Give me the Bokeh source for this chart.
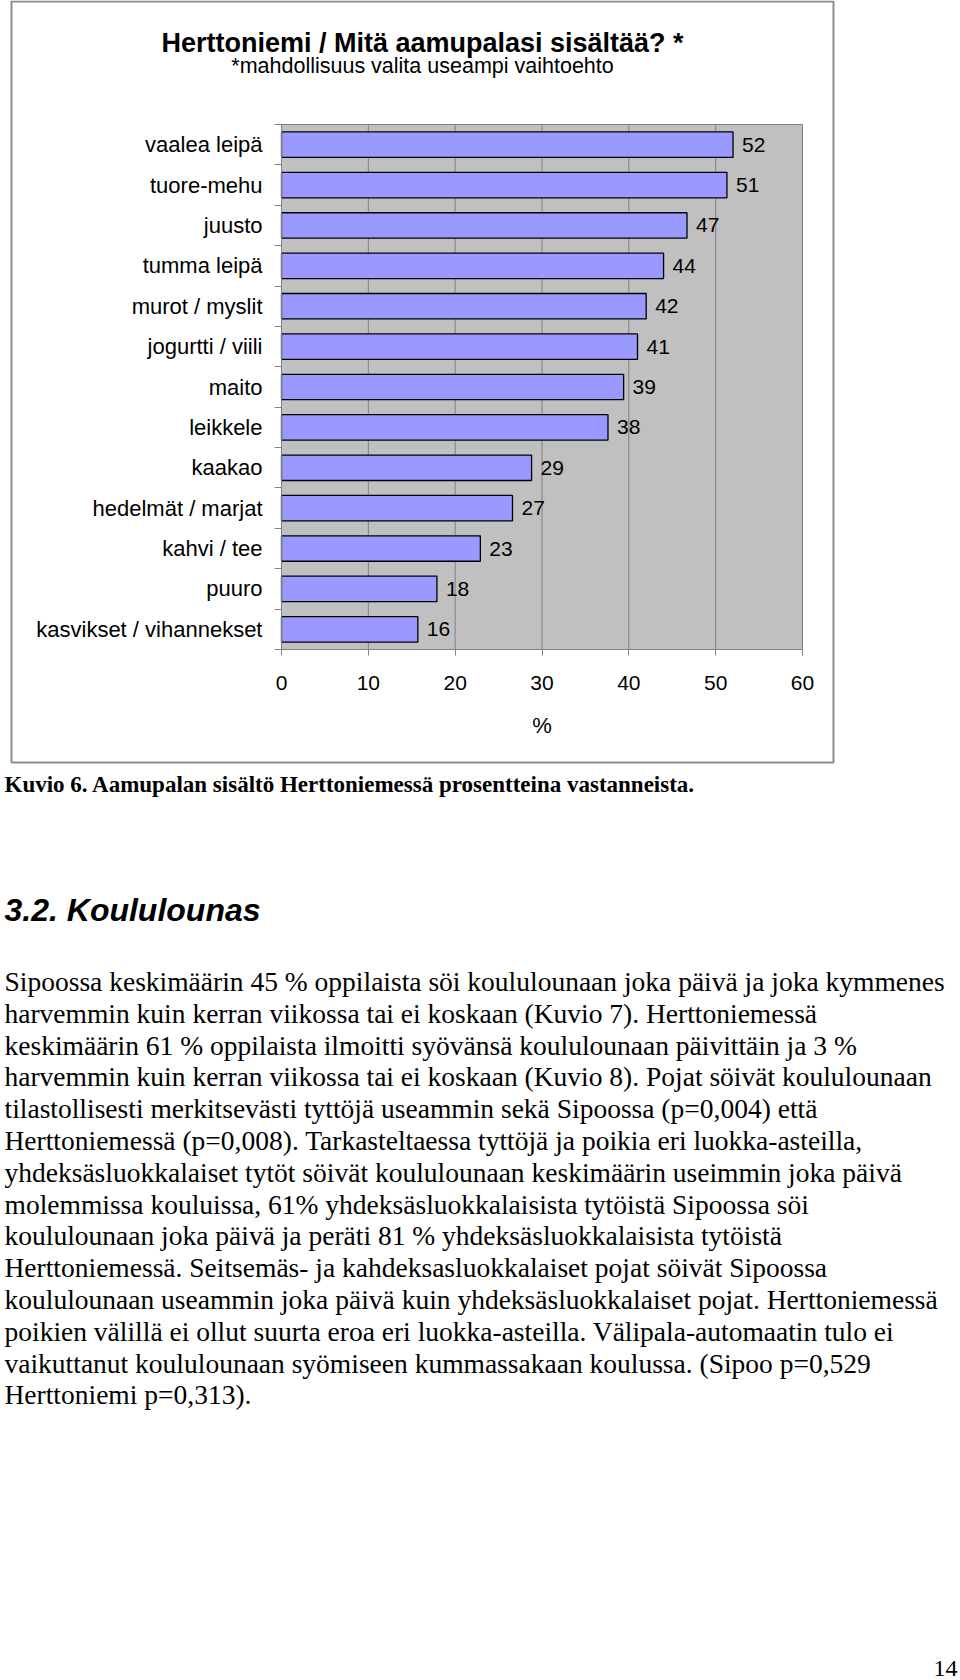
from bokeh.plotting import figure
from bokeh.models import (Range1d, LinearAxis, FixedTicker, LabelSet, ColumnDataSource)
from bokeh.core.properties import value
from bokeh.embed import file_html
from bokeh.resources import INLINE

# ---------------- data ----------------
categories = ["vaalea leipä", "tuore-mehu", "juusto", "tumma leipä", "murot / myslit",
              "jogurtti / viili", "maito", "leikkele", "kaakao", "hedelmät / marjat",
              "kahvi / tee", "puuro", "kasvikset / vihannekset"]
values = [52.0, 51.3, 46.7, 44.0, 42.0, 41.0, 39.4, 37.6, 28.8, 26.6, 22.9, 17.9, 15.7]
x_ticks = [0, 10, 20, 30, 40, 50, 60]

chart_title = "Herttoniemi / Mitä aamupalasi sisältää? *"
chart_subtitle = "*mahdollisuus valita useampi vaihtoehto"
x_label = "%"
caption = "Kuvio 6. Aamupalan sisältö Herttoniemessä prosentteina vastanneista."
heading = "3.2. Koululounas"
paragraph = [
    "Sipoossa keskimäärin 45 % oppilaista söi koululounaan joka päivä ja joka kymmenes",
    "harvemmin kuin kerran viikossa tai ei koskaan (Kuvio 7). Herttoniemessä",
    "keskimäärin 61 % oppilaista ilmoitti syövänsä koululounaan päivittäin ja 3 %",
    "harvemmin kuin kerran viikossa tai ei koskaan (Kuvio 8). Pojat söivät koululounaan",
    "tilastollisesti merkitsevästi tyttöjä useammin sekä Sipoossa (p=0,004) että",
    "Herttoniemessä (p=0,008). Tarkasteltaessa tyttöjä ja poikia eri luokka-asteilla,",
    "yhdeksäsluokkalaiset tytöt söivät koululounaan keskimäärin useimmin joka päivä",
    "molemmissa kouluissa, 61% yhdeksäsluokkalaisista tytöistä Sipoossa söi",
    "koululounaan joka päivä ja peräti 81 % yhdeksäsluokkalaisista tytöistä",
    "Herttoniemessä. Seitsemäs- ja kahdeksasluokkalaiset pojat söivät Sipoossa",
    "koululounaan useammin joka päivä kuin yhdeksäsluokkalaiset pojat. Herttoniemessä",
    "poikien välillä ei ollut suurta eroa eri luokka-asteilla. Välipala-automaatin tulo ei",
    "vaikuttanut koululounaan syömiseen kummassakaan koulussa. (Sipoo p=0,529",
    "Herttoniemi p=0,313).",
]
page_number = "14"

# ---------------- layout constants (page pixels) ----------------
W, H = 960, 1680
FL, FR, FT, FB = 281, 802, 124, 649   # plot-area edges
BOX = (11, 833, 1, 762)               # outer chart frame: left, right, top, bottom
SANS = "Liberation Sans"
SERIF = "Liberation Serif"

n = len(categories)
ypos = [n - 1 - i for i in range(n)]          # first category at the top
x0, x1 = x_ticks[0], x_ticks[-1]
c0, c1 = -0.5, n - 0.5


def val_at(px):      # value-axis coordinate at a page x pixel
    return x0 + (px - FL) * (x1 - x0) / (FR - FL)


def cat_at(py):      # category coordinate at a page y pixel
    return c0 + (FB - py) * (c1 - c0) / (FB - FT)


# the frame covers the whole page; default ranges are page pixels
p = figure(width=W, height=H,
           x_range=Range1d(0, W), y_range=Range1d(H, 0),
           x_axis_location=None, y_axis_location=None,
           min_border=0, min_border_left=0, min_border_right=0,
           min_border_top=0, min_border_bottom=0,
           output_backend="svg", toolbar_location=None,
           background_fill_color="white", border_fill_color="white",
           outline_line_color=None)
p.grid.visible = False

p.extra_x_ranges = {"val": Range1d(val_at(0), val_at(W))}
p.extra_y_ranges = {"cat": Range1d(cat_at(H), cat_at(0))}

# outer chart frame
p.quad(left=[BOX[0]], right=[BOX[1]], top=[BOX[2]], bottom=[BOX[3]],
       fill_color=None, line_color="#8c8c8c", line_width=2)

# plot area
p.quad(left=[x0], right=[x1], bottom=[c0], top=[c1],
       x_range_name="val", y_range_name="cat",
       fill_color="#c0c0c0", line_color="#808080", line_width=1)

# vertical grid lines
inner = x_ticks[1:-1]
p.segment(x0=inner, x1=inner, y0=[c0] * len(inner), y1=[c1] * len(inner),
          x_range_name="val", y_range_name="cat", line_color="#808080", line_width=1)

src = ColumnDataSource(dict(y=ypos, val=values,
                            lab=[str(int(round(v))) for v in values]))

p.hbar(y="y", right="val", left=0, height=0.63, source=src,
       x_range_name="val", y_range_name="cat",
       fill_color="#9999ff", line_color="#000000", line_width=1.3)

p.add_layout(LabelSet(x="val", y="y", text="lab", source=src, x_offset=9,
                      x_range_name="val", y_range_name="cat",
                      text_baseline="middle", text_align="left",
                      text_font=value(SANS), text_font_size="21px", text_color="black"))

# x axis (value axis), fixed at the bottom of the plot area
xa = LinearAxis(x_range_name="val", fixed_location=FB, bounds=(x0, x1),
                ticker=FixedTicker(ticks=x_ticks))
xa.axis_line_color = "#808080"
xa.major_tick_line_color = "#808080"
xa.major_tick_out = 6
xa.major_tick_in = 0
xa.minor_tick_line_color = None
xa.major_label_text_font = SANS
xa.major_label_text_font_size = "21px"
xa.major_label_text_color = "black"
xa.major_label_standoff = 20
xa.axis_label = x_label
xa.axis_label_text_font = SANS
xa.axis_label_text_font_size = "22px"
xa.axis_label_text_font_style = "normal"
xa.axis_label_text_color = "black"
xa.axis_label_standoff = 20
p.add_layout(xa, "below")

# category axis: boundary tick marks
ta = LinearAxis(y_range_name="cat", fixed_location=FL, bounds=(c0, c1),
                ticker=FixedTicker(ticks=[k - 0.5 for k in range(n + 1)]))
ta.axis_line_color = "#808080"
ta.major_tick_line_color = "#808080"
ta.major_tick_out = 7
ta.major_tick_in = 0
ta.minor_tick_line_color = None
ta.major_label_text_font_size = "0px"
ta.major_label_text_alpha = 0
p.add_layout(ta, "left")

# category axis: labels
ca = LinearAxis(y_range_name="cat", fixed_location=FL, bounds=(c0, c1),
                ticker=FixedTicker(ticks=ypos),
                major_label_overrides={y: c for y, c in zip(ypos, categories)})
ca.axis_line_color = None
ca.major_tick_line_color = None
ca.minor_tick_line_color = None
ca.major_tick_out = 0
ca.major_tick_in = 0
ca.major_label_text_font = SANS
ca.major_label_text_font_size = "22px"
ca.major_label_text_color = "black"
ca.major_label_standoff = 19
p.add_layout(ca, "left")


def txt(xs, ys, texts, size, font, style="normal", align="left"):
    p.text(x=xs, y=ys, text=texts, text_font=value(font), text_font_size=size,
           text_font_style=style, text_align=align, text_baseline="middle",
           text_color="black")


cx = (BOX[0] + BOX[1]) / 2
txt([cx], [42], [chart_title], "27px", SANS, "bold", "center")
txt([cx], [65], [chart_subtitle], "21.5px", SANS, "normal", "center")
txt([4], [784], [caption], "23px", SERIF, "bold")
txt([4], [909], [heading], "32px", SANS, "bold italic")
txt([4] * len(paragraph), [981 + i * 31.8 for i in range(len(paragraph))],
    paragraph, "27.5px", SERIF)
txt([957], [1668], [page_number], "24px", SERIF, "normal", "right")

open("out.html", "w").write(file_html(p, INLINE))
